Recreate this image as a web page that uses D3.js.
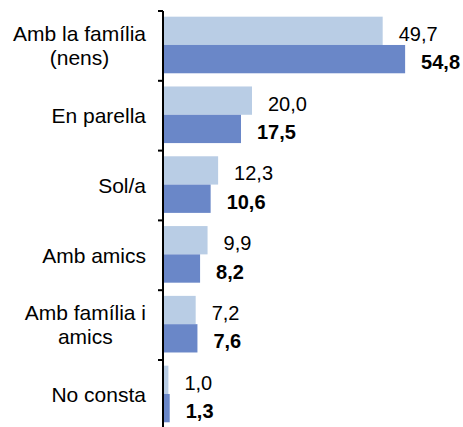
<!DOCTYPE html>
<html>
<head>
<meta charset="utf-8">
<script src="https://cdn.jsdelivr.net/npm/d3@7"></script>
<style>
    body { margin: 0; background: #fff; }
    svg text { font-family: 'Liberation Sans', Arial, sans-serif; font-size: 20px; fill: #000; }
    svg text.cat { font-size: 21px; }
</style>
</head>
<body>
<svg id="chart" width="463" height="427"></svg>
<script>
const categories = ['Amb la família (nens)', 'En parella', 'Sol/a', 'Amb amics', 'Amb família i amics', 'No consta'];
const labelLines = [['Amb la família', '(nens)'], ['En parella'], ['Sol/a'], ['Amb amics'], ['Amb família i', 'amics'], ['No consta']];
const series = ['anterior', 'actual'];
const valuesAnterior = [49.7, 20.0, 12.3, 9.9, 7.2, 1.0];
const valuesActual = [54.8, 17.5, 10.6, 8.2, 7.6, 1.3];
const colors = ['#b9cde5', '#6a87c8'];

const rows = categories.map((c, i) => ({
    cat: c,
    lines: labelLines[i],
    vals: [
        { key: series[0], v: valuesAnterior[i] },
        { key: series[1], v: valuesActual[i] },
    ],
}));

const svg = d3.select('#chart');
const fmt = d3.formatLocale({ decimal: ',', thousands: '.', grouping: [3], currency: ['', '€'] }).format('.1f');

const x = d3.scaleLinear().domain([0, 60]).range([164, 428]);
const y = d3.scaleBand().domain(categories).range([11, 429.8]).padding(0);
const yInner = d3.scaleBand().domain(series).range([0, y.bandwidth()]).paddingInner(0).paddingOuter(0.233).align(0.43);

const groups = svg.append('g')
    .selectAll('g')
    .data(rows)
    .join('g')
    .attr('transform', d => `translate(0,${y(d.cat)})`);

groups.selectAll('rect')
    .data(d => d.vals)
    .join('rect')
    .attr('x', x(0))
    .attr('y', d => yInner(d.key))
    .attr('width', d => x(d.v) - x(0))
    .attr('height', yInner.bandwidth())
    .attr('fill', (d, i) => colors[i]);

groups.selectAll('text.val')
    .data(d => d.vals)
    .join('text')
    .attr('class', 'val')
    .attr('x', d => x(d.v) + 16)
    .attr('y', d => yInner(d.key) + yInner.bandwidth() / 2 + 3)
    .attr('dy', '0.35em')
    .style('font-weight', (d, i) => (i === 1 ? 'bold' : 'normal'))
    .text(d => fmt(d.v));

// category labels: block right aligned at the axis, lines centred within the block
const labelRight = 146;
const lineH = 24;
groups.append('text')
    .attr('class', 'cat')
    .attr('text-anchor', 'middle')
    .each(function (d) {
        const t = d3.select(this);
        const top = y.bandwidth() / 2 - ((d.lines.length - 1) * lineH) / 2;
        const spans = d.lines.map((ln, j) =>
            t.append('tspan')
                .attr('y', top + j * lineH)
                .attr('dy', '0.35em')
                .text(ln)
        );
        const w = d3.max(spans, s => s.node().getComputedTextLength());
        spans.forEach(s => s.attr('x', labelRight - w / 2));
    });

// axis: line plus ticks between categories
const axis = svg.append('g');
axis.append('line')
    .attr('x1', 163).attr('x2', 163)
    .attr('y1', y.range()[0]).attr('y2', y.range()[1])
    .attr('stroke', '#000').attr('stroke-width', 2);
axis.selectAll('line.tick')
    .data(categories)
    .join('line')
    .attr('class', 'tick')
    .attr('x1', 158).attr('x2', 163)
    .attr('y1', d => y(d)).attr('y2', d => y(d))
    .attr('stroke', '#000').attr('stroke-width', 2);
</script>
</body>
</html>
